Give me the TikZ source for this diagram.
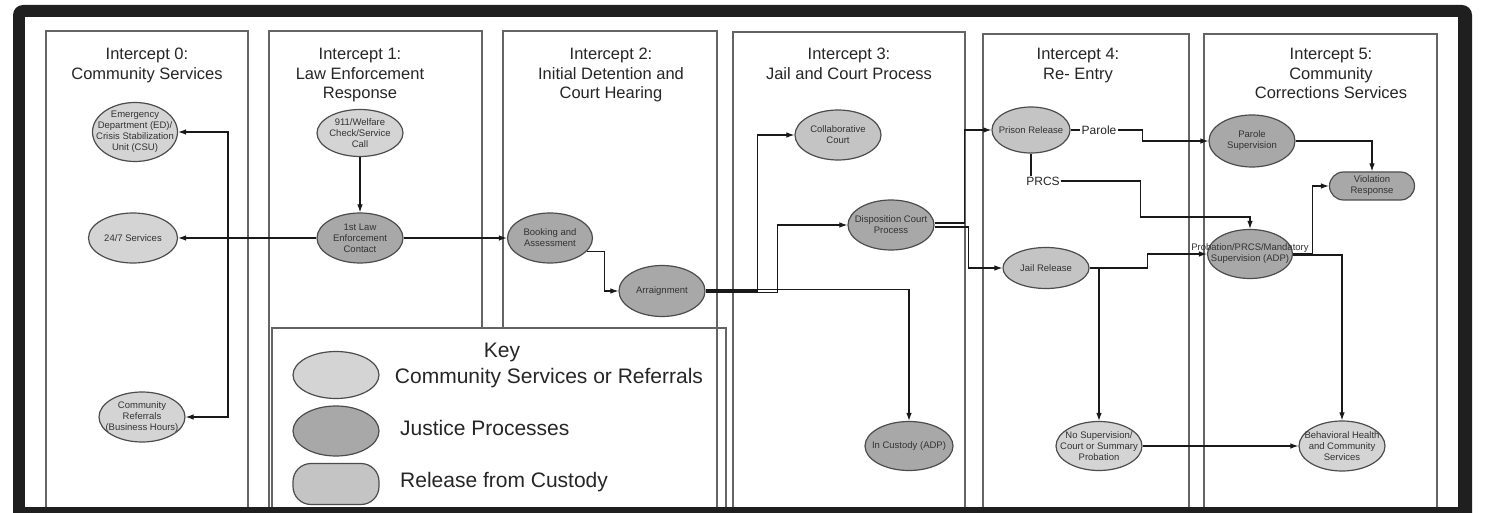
\documentclass[tikz,border=0pt]{standalone}
\usepackage{fontspec}
\setmainfont{Liberation Sans}
\usetikzlibrary{shapes.geometric, arrows.meta}
\definecolor{svcgray}{RGB}{212,212,212}
\definecolor{jusgray}{RGB}{168,168,168}
\definecolor{relgray}{RGB}{196,196,196}
\definecolor{boxgray}{RGB}{100,100,100}

\begin{document}
\begin{tikzpicture}[x=1pt, y=-1pt, >={Latex[length=8pt, width=5.5pt]},
	panel/.style={draw=boxgray, line width=1.6pt},
	heading/.style={anchor=north, align=center, inner sep=0pt, text=black!85, font=\fontsize{16.5}{19.5}\selectfont},
	ovaltext/.style={align=center, inner sep=0pt, text=black!80, font=\fontsize{9.5}{11}\selectfont},
	oval/.style={ellipse, draw=black!70, line width=1.2pt, inner sep=0pt, minimum width=86pt, minimum height=50pt, label={[ovaltext]center:#1}},
	svc/.style={oval={#1}, fill=svcgray},
	jus/.style={oval={#1}, fill=jusgray},
	rel/.style={oval={#1}, fill=relgray},
	pill/.style={rectangle, rounded corners=14pt, draw=black!70, line width=1.2pt, inner sep=0pt, minimum width=86pt, minimum height=28pt, label={[ovaltext]center:#1}},
	tag/.style={inner sep=1pt, text=black!85, font=\fontsize{12}{14}\selectfont},
	keytext/.style={inner sep=0pt, text=black!85, font=\fontsize{21}{25}\selectfont},
	flow/.style={->, line width=1.1pt, black!90}]

	\useasboundingbox (0,0) rectangle (1486,513);
	\fill[black!88, rounded corners=10pt] (13,5) rectangle (1472,540);
	\fill[white] (25,17) rectangle (1458,507);

	\draw[panel] (46,507) |- (248,31) -- (248,507);
	\draw[panel] (269,507) |- (482,31) -- (482,328);
	\draw[panel] (503,328) |- (717,31) -- (717,507);
	\draw[panel] (733,507) |- (965,32) -- (965,507);
	\draw[panel] (983,507) |- (1189,34) -- (1189,507);
	\draw[panel] (1204,507) |- (1437,34) -- (1437,507);
	\draw[panel] (272,507) |- (726,328) -- (726,507);

	\node[heading] (i0) at (147,48) {Intercept 0:\\Community Services};
	\node[heading] (i1) at (360,48) {Intercept 1:\\Law Enforcement\\Response};
	\node[heading] (i2) at (611,48) {Intercept 2:\\Initial Detention and\\Court Hearing};
	\node[heading] (i3) at (849,48) {Intercept 3:\\Jail and Court Process};
	\node[heading] (i4) at (1078,48) {Intercept 4:\\Re- Entry};
	\node[heading] (i5) at (1331,48) {Intercept 5:\\Community\\Corrections Services};

	\node[svc={Emergency\\Department (ED)/\\Crisis Stabilization\\Unit (CSU)}, minimum width=85pt, minimum height=59pt] (ed) at (135,132) {};
	\node[svc={24/7 Services}, minimum width=89pt] (allday) at (133,238) {};
	\node[svc={Community\\Referrals\\(Business Hours)}] (refer) at (142,417) {};
	\node[svc={911/Welfare\\Check/Service\\Call}, minimum height=47pt] (call) at (360,133) {};
	\node[jus={1st Law\\Enforcement\\Contact}] (law) at (360,238) {};
	\node[jus={Booking and\\Assessment}, minimum width=85pt] (book) at (550,238) {};
	\node[jus={Arraignment}, minimum height=51pt] (arr) at (662,291) {};
	\node[rel={Collaborative\\Court}] (collab) at (838,135) {};
	\node[jus={Disposition Court\\Process}] (disp) at (891,225) {};
	\node[jus={In Custody (ADP)}, minimum width=88pt, minimum height=49pt] (cust) at (909,446) {};
	\node[rel={Prison Release}, minimum width=78pt, minimum height=46pt] (prison) at (1031,130) {};
	\node[rel={Jail Release}, minimum height=41pt] (jail) at (1046,268) {};
	\node[svc={No Supervision/\\Court or Summary\\Probation}, minimum height=49pt] (nosup) at (1099,446) {};
	\node[jus={Parole\\Supervision}, minimum height=52pt] (parole) at (1252,141) {};
	\node[pill={Violation\\Response}, fill=jusgray, minimum width=85pt] (viol) at (1372,186) {};
	\node[jus={Probation/PRCS/Mandatory\\Supervision (ADP)}, minimum width=85pt, minimum height=49pt] (prob) at (1250,254) {};
	\node[svc={Behavioral Health\\and Community\\Services}] (bhs) at (1342,446) {};

	\node[tag] (lparole) at (1099,130) {Parole};
	\node[tag] (lprcs) at (1043,181) {PRCS};

	\node[svc={}, minimum height=47pt] (k1) at (336,375) {};
	\node[jus={}] (k2) at (336,431) {};
	\node[pill={}, fill=relgray, rounded corners=18pt, minimum height=41pt] (k3) at (336,484) {};
	\node[keytext, anchor=base] (key) at (502,357) {Key};
	\node[keytext, anchor=base] (kt1) at (549,383) {Community Services or Referrals};
	\node[keytext, anchor=base west] (kt2) at (400,435) {Justice Processes};
	\node[keytext, anchor=base west] (kt3) at (400,487) {Release from Custody};

	\coordinate (split) at (228,238);
	\draw[flow] (call) -- (law);
	\draw[flow] (law) -- (allday);
	\draw[flow] (split) |- (ed);
	\draw[flow] (split) |- (refer);
	\draw[flow] (law) -- (book);
	\draw[flow] (book.-20) -| ([xshift=-14pt]arr.west) -- (arr);
	\draw[flow] (arr.east) -- ++(52,0) |- (collab);
	\draw[flow] ([yshift=-1.5pt]arr.east) -- ++(72,0) |- (disp);
	\draw[flow] ([yshift=1.5pt]arr.east) -| (cust);
	\draw[flow] ([yshift=2pt]disp.east) -- ++(30,0) |- (prison);
	\draw[flow] ([yshift=-2pt]disp.east) -- ++(34,0) |- (jail);
	\draw[line width=1.1pt, black!90] (prison) -- (lparole);
	\draw[flow] (lparole.east) -- ++(25,0) |- (parole);
	\draw[line width=1.1pt, black!90] (prison.south) -- (prison.south |- lprcs.north);
	\draw[flow] (lprcs.east) -- ++(80,0) -- ++(0,36) -| (prob);
	\draw[flow] (jail.east) -- ++(58,0) |- (prob);
	\draw[flow] (jail.east) -| (nosup);
	\draw[flow] (nosup) -- (bhs);
	\draw[flow] (parole) -| (viol);
	\draw[flow] (prob.east) -- ++(19,0) |- (viol);
	\draw[flow] ([yshift=-1pt]prob.east) -| (bhs);
\end{tikzpicture}
\end{document}
